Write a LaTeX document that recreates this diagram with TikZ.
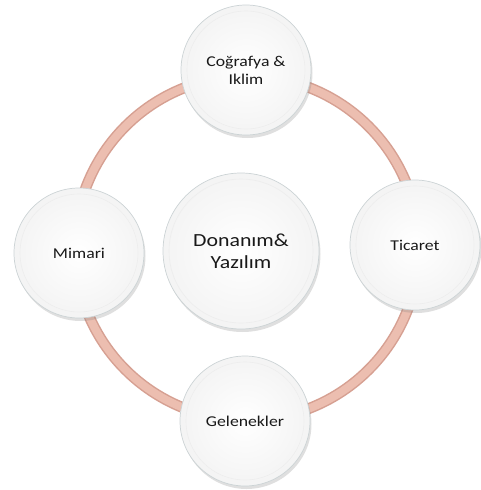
\documentclass[tikz,border=0pt]{standalone}
\usepackage{fontspec}
\setmainfont{Carlito}[FakeStretch=1.18]
\usetikzlibrary{shadows}
\definecolor{ringpink}{RGB}{236,190,176}
\definecolor{ringedge}{RGB}{214,160,146}
\definecolor{bubbleedge}{RGB}{204,211,213}
\tikzset{
  bubble/.style={
    shape = circle,
    draw = bubbleedge,
    line width = 0.7pt,
    inner color = white,
    outer color = gray!9,
    minimum size = #1,
    inner sep = 0pt,
    align = center,
    text = black!90,
    font = \fontsize{15}{18}\selectfont,
    drop shadow = {shadow xshift=1.5pt, shadow yshift=-3pt, opacity=0.25, fill=gray},
    path picture = {
      \draw[gray!14, line width=0.6pt] (path picture bounding box.center) circle[radius=#1/2-6pt];
    }
  },
  bubble/.default = 130pt,
  corebubble/.style={
    bubble = 156pt,
    font = \fontsize{18.5}{22}\selectfont
  },
  every picture/.style = {
    x = 1pt,
    y = -1pt
  }
}

\begin{document}
\begin{tikzpicture}
        \useasboundingbox (0,0) rectangle (481,490);
        \coordinate (hub) at (247,248);
        % ring behind the bubbles
        \draw[ringedge, line width=11pt] (hub) circle[radius=172pt];
        \draw[ringpink, line width=8pt] (hub) circle[radius=172pt];
        \foreach \name/\pos/\txt in {geo/{246,70}/{Coğrafya \&\\ Iklim},
                                      mim/{79,253}/{Mimari},
                                      tic/{415,245}/{Ticaret},
                                      gel/{245,421}/{Gelenekler}}{
                \node[bubble] (\name) at (\pos) {\txt};
            }
        \node[corebubble] (core) at (241,251) {Donanım\&\\ Yazılım};
    \end{tikzpicture}
\end{document}
